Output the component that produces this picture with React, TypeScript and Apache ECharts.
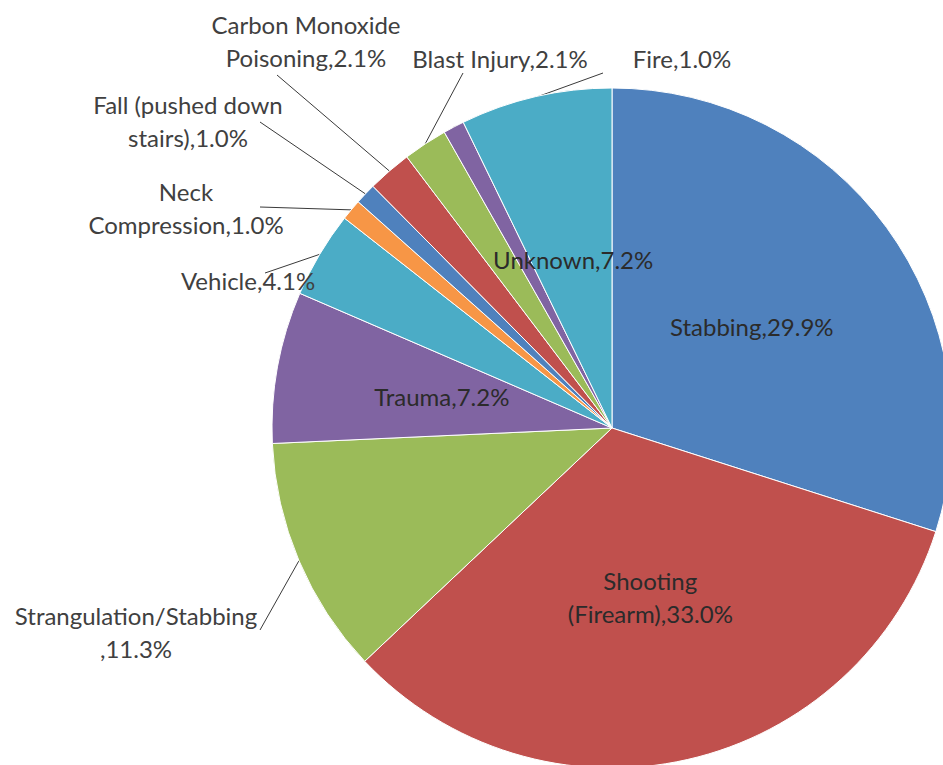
import { useEffect, useRef } from "react";
import * as echarts from "echarts";

// Causes of death, share of cases (%), clockwise from 12 o'clock
const categories = [
  "Stabbing",
  "Shooting\n(Firearm)",
  "Strangulation/Stabbing\n",
  "Trauma",
  "Vehicle",
  "Neck\nCompression",
  "Fall (pushed down\nstairs)",
  "Carbon Monoxide\nPoisoning",
  "Blast Injury",
  "Fire",
  "Unknown",
];
const shares = [29.9, 33.0, 11.3, 7.2, 4.1, 1.0, 1.0, 2.1, 2.1, 1.0, 7.2];

const sliceColors = [
  "#4F81BD", "#C0504D", "#9BBB59", "#8064A2", "#4BACC6", "#F79646",
  "#4F81BD", "#C0504D", "#9BBB59", "#8064A2", "#4BACC6",
];

// Which slices carry their label inside the wedge
const labelInside = [true, true, false, true, false, false, false, false, false, false, true];

// Where the outside labels sit (block centre) and where their leader line ends
const outsideLabelSpot: Record<number, [number, number]> = {
  2: [136, 632],
  4: [248, 280],
  5: [186, 208],
  6: [188, 121],
  7: [306, 41],
  8: [500, 58],
  9: [682, 58],
};
const leaderEnd: Record<number, [number, number]> = {
  2: [260, 630],
  4: [265, 273],
  5: [260, 207],
  6: [260, 122],
  7: [277, 75],
  8: [463, 73],
  9: [603, 73],
};

const FONT = "Lato, 'Noto Sans', sans-serif";

export default function App() {
  const ref = useRef<HTMLDivElement>(null);

  useEffect(() => {
    document.body.style.margin = "0";
    if (!ref.current) return;
    const chart = echarts.init(ref.current, undefined, { renderer: "svg" });

    const data = categories.map((name, i) => ({
      name,
      value: shares[i],
      itemStyle: { color: sliceColors[i] },
      label: labelInside[i]
        ? { position: "inside" as const, color: "#2b2b2b" }
        : { position: "outside" as const, color: "#404040" },
      labelLine: { show: !labelInside[i] },
    }));

    chart.setOption({
      animation: false,
      backgroundColor: "#ffffff",
      series: [
        {
          type: "pie",
          center: [612, 428],
          radius: 340,
          startAngle: 90,
          clockwise: true,
          avoidLabelOverlap: false,
          data,
          itemStyle: { borderColor: "#ffffff", borderWidth: 1 },
          label: {
            fontFamily: FONT,
            fontSize: 24,
            lineHeight: 33,
            align: "center",
            formatter: (p: any) => `${p.name},${Number(p.value).toFixed(1)}%`,
          },
          labelLine: {
            lineStyle: { color: "#3a3a3a", width: 1 },
            length: 10,
            length2: 0,
          },
          emphasis: { disabled: true },
          labelLayout: (params: any) => {
            const i = params.dataIndex;
            const spot = outsideLabelSpot[i];
            if (!spot) return {};
            const start = params.labelLinePoints
              ? params.labelLinePoints[0]
              : undefined;
            const end = leaderEnd[i];
            return {
              x: spot[0],
              y: spot[1],
              align: "center",
              verticalAlign: "middle",
              labelLinePoints: start ? [start, end, end] : undefined,
            };
          },
        },
      ],
    });

    return () => chart.dispose();
  }, []);

  return <div ref={ref} style={{ width: 943, height: 765 }} />;
}
